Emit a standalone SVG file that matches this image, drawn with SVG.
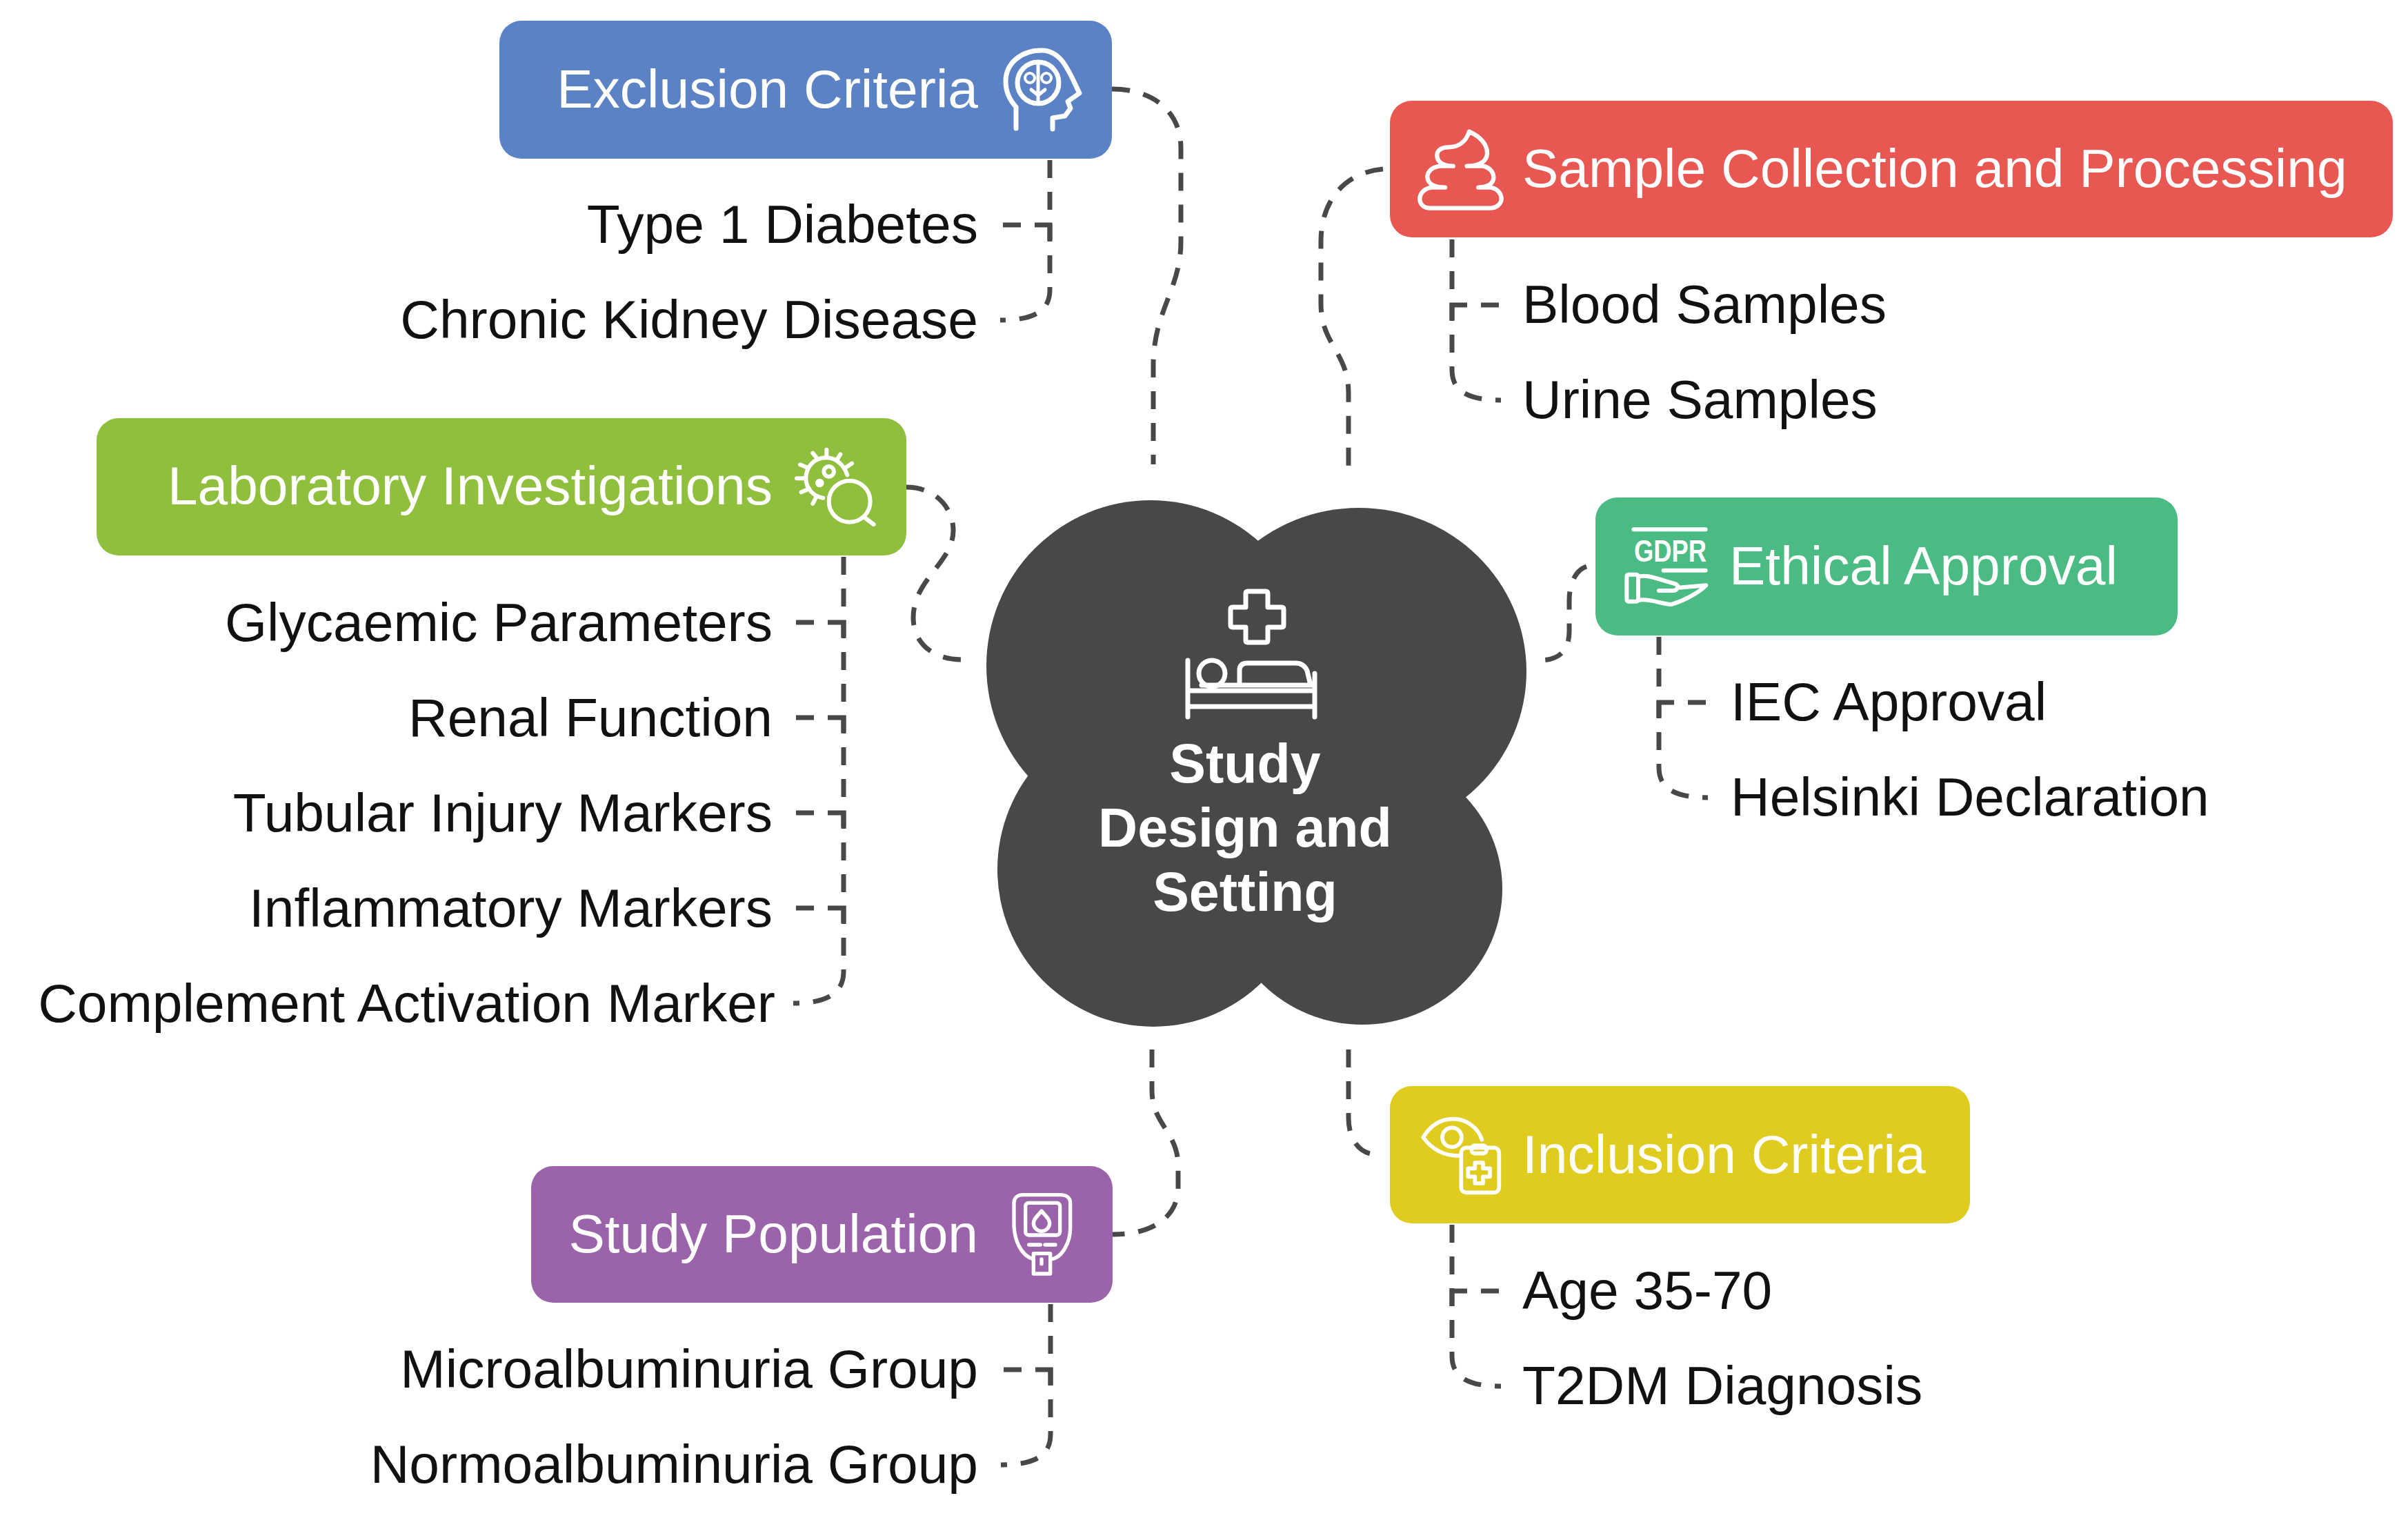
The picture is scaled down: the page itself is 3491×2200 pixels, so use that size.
<svg xmlns="http://www.w3.org/2000/svg" width="3491" height="2200" viewBox="0 0 3491 2200">
<style>
.t{font-family:"Liberation Sans",Arial,sans-serif;font-size:78.5px}
.h{fill:#fff}
.i{fill:#111}
.e{text-anchor:end}
.c{font-family:"Liberation Sans",Arial,sans-serif;font-size:79px;font-weight:700;fill:#fff;text-anchor:middle}
.w{fill:none;stroke:#fff;stroke-linecap:round;stroke-linejoin:round}
.d,.s{fill:none;stroke:#484848;stroke-width:7}
.d{stroke-dasharray:26 20}
.s{stroke-dasharray:26 20 44 1000}
</style>
<rect width="3491" height="2200" fill="#fff"/>
<g id="connectors">
<path class="d" d="M1612 129C1670 129 1712 160 1712 215V350C1712 420 1672 450 1672 530V673"/>
<path class="d" d="M2005 245C1950 250 1915 290 1915 350V440C1915 500 1955 510 1955 570V678"/>
<path class="d" d="M1314 706C1355 706 1382 735 1382 769C1382 815 1324 840 1324 895C1324 930 1350 956 1395 956"/>
<path class="d" d="M2300 821C2285 826 2275 845 2275 870V915C2275 945 2258 957 2232 957"/>
<path class="d" d="M1670 1521V1580C1670 1630 1708 1640 1708 1690V1720C1708 1765 1670 1789 1613 1789"/>
<path class="d" d="M1955 1521V1620C1955 1650 1970 1673 1995 1673"/>
<path class="d" d="M1522 232V420C1522 450 1500 464 1450 464"/>
<path class="s" d="M1454 326H1522V348"/>
<path class="d" d="M2105 347V536C2105 566 2127 580 2176 580"/>
<path class="s" d="M2173 442H2105V464"/>
<path class="d" d="M1223 807V1408C1223 1438 1201 1454 1150 1454"/>
<path class="s" d="M1154 902H1223V924"/>
<path class="s" d="M1154 1040H1223V1062"/>
<path class="s" d="M1154 1178H1223V1200"/>
<path class="s" d="M1154 1316H1223V1338"/>
<path class="d" d="M2405 923V1112C2405 1142 2427 1156 2476 1156"/>
<path class="s" d="M2473 1018H2405V1040"/>
<path class="d" d="M2105 1775V1965C2105 1995 2127 2009 2176 2009"/>
<path class="s" d="M2173 1871H2105V1893"/>
<path class="d" d="M1523 1890V2079C1523 2109 1501 2123 1451 2123"/>
<path class="s" d="M1455 1985H1523V2007"/>
</g>
<g id="center">
<ellipse cx="1668" cy="965" rx="238" ry="240" fill="#484848"/>
<ellipse cx="1970" cy="973" rx="243" ry="237" fill="#484848"/>
<ellipse cx="1975" cy="1288" rx="203" ry="197" fill="#484848"/>
<ellipse cx="1672" cy="1260" rx="226" ry="228" fill="#484848"/>
<polygon points="1828,785 2124,1153 1834,1428 1494,1121" fill="#484848"/>
<path class="w" stroke-width="7" d="M1809 857H1835Q1838 857 1838 860V880H1858Q1861 880 1861 883V906Q1861 909 1858 909H1838V928Q1838 931 1835 931H1809Q1806 931 1806 928V909H1787Q1784 909 1784 906V883Q1784 880 1787 880H1806V860Q1806 857 1809 857Z"/>
<path class="w" stroke-width="7" d="M1722 957V1039M1906 976V1039M1722 1001H1906M1722 1024H1906M1742 993H1906M1797 993V972Q1797 961 1808 961H1878Q1890 961 1895 972L1900 993"/>
<circle class="w" stroke-width="7" cx="1757" cy="976" r="19"/>
<text class="c" x="1805" y="1134">Study</text>
<text class="c" x="1805" y="1227">Design and</text>
<text class="c" x="1805" y="1320">Setting</text>
</g>
<g id="exclusion">
<rect x="724" y="30" width="888" height="200" rx="32" fill="#5a82c4"/>
<text class="t h e" x="1418" y="156">Exclusion Criteria</text>
<path class="w" stroke-width="7" d="M1473 186V155C1462 143 1458 130 1458 118C1458 92 1480 73 1510 73C1540 73 1550 105 1565 135L1548 147L1552 157L1544 168L1526 171V187"/>
<circle class="w" stroke-width="7" cx="1505" cy="120" r="30"/>
<circle class="w" stroke-width="4" cx="1493" cy="113" r="7"/>
<circle class="w" stroke-width="4" cx="1517" cy="113" r="7"/>
<path class="w" stroke-width="5" d="M1505 92V148M1495 130L1505 138L1515 130"/>
<text class="t i e" x="1418" y="352">Type 1 Diabetes</text>
<text class="t i e" x="1418" y="490">Chronic Kidney Disease</text>
</g>
<g id="sample">
<rect x="2015" y="146" width="1454" height="198" rx="32" fill="#e85752"/>
<text class="t h" x="2207" y="271">Sample Collection and Processing</text>
<path class="w" stroke-width="19" transform="translate(1950 120) scale(.3333)" d="M470 362C420 362 400 340 400 315C400 290 425 280 450 280C490 280 525 260 540 212C590 235 620 270 618 310C615 345 580 362 530 362H600C635 370 650 395 645 420C640 445 610 455 580 455H630C660 458 680 480 680 505C680 525 660 545 630 545H370C345 545 325 530 325 505C325 480 345 460 375 455H435C390 455 360 440 358 410C358 385 380 365 415 362H470"/>
<text class="t i" x="2207" y="468">Blood Samples</text>
<text class="t i" x="2207" y="606">Urine Samples</text>
</g>
<g id="laboratory">
<rect x="140" y="606" width="1174" height="199" rx="32" fill="#90bf3e"/>
<text class="t h e" x="1120" y="731">Laboratory Investigations</text>
<g class="w" stroke-width="18" transform="translate(1130 620) scale(.3333)">
<circle cx="305" cy="320" r="90"/>
<path d="M370 390L410 420M295 205C280 160 245 130 205 130C150 130 115 170 115 220C115 265 150 300 190 305M205 95V125M145 110L165 135M265 115L250 140M90 160L125 175M315 155L285 175M75 220H115M95 280L130 265M145 330L160 300"/>
<circle cx="215" cy="190" r="22"/>
<circle cx="175" cy="240" r="10"/>
</g>
<text class="t i e" x="1120" y="929">Glycaemic Parameters</text>
<text class="t i e" x="1120" y="1067">Renal Function</text>
<text class="t i e" x="1120" y="1205">Tubular Injury Markers</text>
<text class="t i e" x="1120" y="1343">Inflammatory Markers</text>
<text class="t i e" x="1124" y="1481">Complement Activation Marker</text>
</g>
<g id="ethical">
<rect x="2313" y="721" width="844" height="200" rx="32" fill="#4abb82"/>
<text class="t h" x="2507" y="847">Ethical Approval</text>
<g class="w" stroke-width="18" transform="translate(2320 710) scale(.3333)">
<path d="M145 172H458M275 350H458"/>
<rect x="115" y="368" width="50" height="117" rx="8"/>
<path d="M165 378C200 365 240 385 330 410C345 420 335 437 315 438H255M340 425L460 415C430 445 370 480 310 498C260 495 210 470 165 480"/>
</g>
<text x="2369" y="814" font-family="Liberation Sans, Arial, sans-serif" font-weight="700" font-size="44" fill="#fff" textLength="105" lengthAdjust="spacingAndGlyphs">GDPR</text>
<text class="t i" x="2509" y="1044">IEC Approval</text>
<text class="t i" x="2509" y="1182">Helsinki Declaration</text>
</g>
<g id="inclusion">
<rect x="2015" y="1574" width="841" height="199" rx="32" fill="#e0cc1e"/>
<text class="t h" x="2207" y="1700">Inclusion Criteria</text>
<g class="w" stroke-width="17" transform="translate(2020 1580) scale(.3333)">
<path d="M285 285C220 285 170 260 130 205C170 140 220 125 260 125C320 125 370 165 385 215"/>
<circle cx="255" cy="205" r="42"/>
<rect x="295" y="250" width="165" height="195" rx="22"/>
<rect x="340" y="240" width="65" height="35" rx="15"/>
<path d="M355 315H390V340H420V376H390V405H355V376H325V340H355Z"/>
</g>
<text class="t i" x="2207" y="1897">Age 35-70</text>
<text class="t i" x="2207" y="2035">T2DM Diagnosis</text>
</g>
<g id="population">
<rect x="770" y="1690" width="843" height="198" rx="32" fill="#9b63a9"/>
<text class="t h e" x="1418" y="1815">Study Population</text>
<g class="w" stroke-width="16" transform="translate(1430 1700) scale(.3333)">
<path d="M120 130C120 105 140 95 160 95H320C345 95 365 105 365 130V240C365 300 330 370 280 375H205C150 360 120 290 120 220Z"/>
<rect x="170" y="130" width="150" height="140" rx="14"/>
<path d="M240 165C260 190 275 200 275 218A35 35 0 0 1 205 218C205 200 220 190 240 165Z"/>
<path d="M185 312H235M255 312H300"/>
<rect x="205" y="350" width="73" height="88" fill="#9b63a9"/>
<path d="M240 375V395"/>
</g>
<text class="t i e" x="1418" y="2011">Microalbuminuria Group</text>
<text class="t i e" x="1418" y="2149">Normoalbuminuria Group</text>
</g>
</svg>
